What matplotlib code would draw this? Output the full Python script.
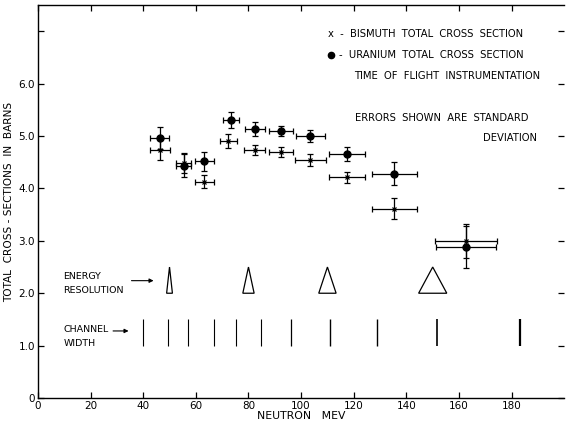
import matplotlib
matplotlib.use("Agg")
import matplotlib.pyplot as plt
from matplotlib.patches import Polygon

# neutron energy (MeV) and cross sections (barns)
u_energy = [46.2, 55.4, 63.2, 73.4, 82.4, 92.4, 103.4, 117.4, 135.4, 162.6]
u_sigma = [4.96, 4.43, 4.52, 5.31, 5.14, 5.10, 5.00, 4.66, 4.28, 2.88]
u_sigma_err = [0.21, 0.22, 0.18, 0.15, 0.13, 0.10, 0.11, 0.13, 0.22, 0.40]
u_energy_err = [3.7, 2.9, 3.6, 2.9, 3.7, 4.5, 5.5, 6.7, 8.5, 11.5]

bi_energy = [46.3, 55.4, 63.2, 72.3, 82.3, 92.3, 103.5, 117.4, 135.4, 162.6]
bi_sigma = [4.73, 4.48, 4.13, 4.91, 4.73, 4.70, 4.54, 4.21, 3.61, 3.00]
bi_sigma_err = [0.19, 0.19, 0.13, 0.13, 0.10, 0.09, 0.11, 0.11, 0.20, 0.32]
bi_energy_err = [3.8, 2.9, 3.6, 3.2, 4.1, 4.6, 5.8, 6.7, 8.5, 11.9]

# energy resolution triangles: centre and full base width (MeV)
res_centre = [50, 80, 110, 150]
res_width = [2.2, 4.3, 6.6, 10.7]

# channel boundaries (MeV)
channel_edges = [39.8, 49.6, 57.1, 67.0, 75.1, 84.6, 96.2, 111.0, 129.0, 151.6, 183.1]
channel_lw = [0.8, 0.8, 0.8, 0.8, 0.8, 0.8, 0.9, 1.0, 1.0, 1.2, 1.6]

fs = 7.2
fig = plt.figure(figsize=(5.66, 4.25), dpi=100)
ax = fig.add_axes([0.067, 0.0635, 0.93, 0.9245])

ax.errorbar(u_energy, u_sigma, yerr=u_sigma_err, xerr=u_energy_err, fmt='o',
            color='black', ms=5, elinewidth=0.9, capsize=2, capthick=0.9)
ax.errorbar(bi_energy, bi_sigma, yerr=bi_sigma_err, xerr=bi_energy_err, fmt='x',
            color='black', ms=3, mew=0.9, elinewidth=0.9, capsize=2, capthick=0.9)

for c, w in zip(res_centre, res_width):
    tri = Polygon([(c - w / 2, 2.0), (c + w / 2, 2.0), (c, 2.5)], closed=True,
                  fill=False, edgecolor='black', lw=0.9)
    ax.add_patch(tri)

ax.vlines(channel_edges, 1.0, 1.5, colors='black', linewidths=channel_lw)

ax.text(9.6, 2.31, "ENERGY", fontsize=fs - 0.4, va='center')
ax.text(9.6, 2.05, "RESOLUTION", fontsize=fs - 0.4, va='center')
ax.annotate("", xy=(45, 2.24), xytext=(34.5, 2.24),
            arrowprops=dict(arrowstyle='-|>', color='black', lw=0.8, mutation_scale=6))
ax.text(9.6, 1.30, "CHANNEL", fontsize=fs - 0.4, va='center')
ax.text(9.6, 1.05, "WIDTH", fontsize=fs - 0.4, va='center')
ax.annotate("", xy=(35.5, 1.28), xytext=(27.5, 1.28),
            arrowprops=dict(arrowstyle='-|>', color='black', lw=0.8, mutation_scale=6))

ax.text(110.3, 6.95, "x  -  BISMUTH  TOTAL  CROSS  SECTION", fontsize=fs, va='center')
ax.plot([111.5], [6.55], 'o', color='black', ms=4.5)
ax.text(114.5, 6.55, "-  URANIUM  TOTAL  CROSS  SECTION", fontsize=fs, va='center')
ax.text(120.3, 6.15, "TIME  OF  FLIGHT  INSTRUMENTATION", fontsize=fs, va='center')
ax.text(120.3, 5.35, "ERRORS  SHOWN  ARE  STANDARD", fontsize=fs, va='center')
ax.text(189.8, 4.96, "DEVIATION", fontsize=fs, va='center', ha='right')

ax.set_xlim(0, 200)
ax.set_ylim(0, 7.5)
ax.set_xticks(range(0, 200, 20))
ax.set_xticklabels([str(v) for v in range(0, 200, 20)], fontsize=7.5)
ax.set_yticks([0, 1, 2, 3, 4, 5, 6, 7])
ax.set_yticklabels(["0", "1.0", "2.0", "3.0", "4.0", "5.0", "6.0", ""], fontsize=7.5)
ax.tick_params(direction='in', length=4, width=0.9, top=True, right=True, pad=2)
ax.spines['right'].set_visible(False)
for s in ['left', 'bottom', 'top']:
    ax.spines[s].set_linewidth(1.0)

ax.set_xlabel("NEUTRON   MEV", fontsize=7.8, labelpad=0)
ax.set_ylabel("TOTAL  CROSS - SECTIONS  IN  BARNS", fontsize=7.6, labelpad=3)

fig.savefig("out.png", dpi=100)
